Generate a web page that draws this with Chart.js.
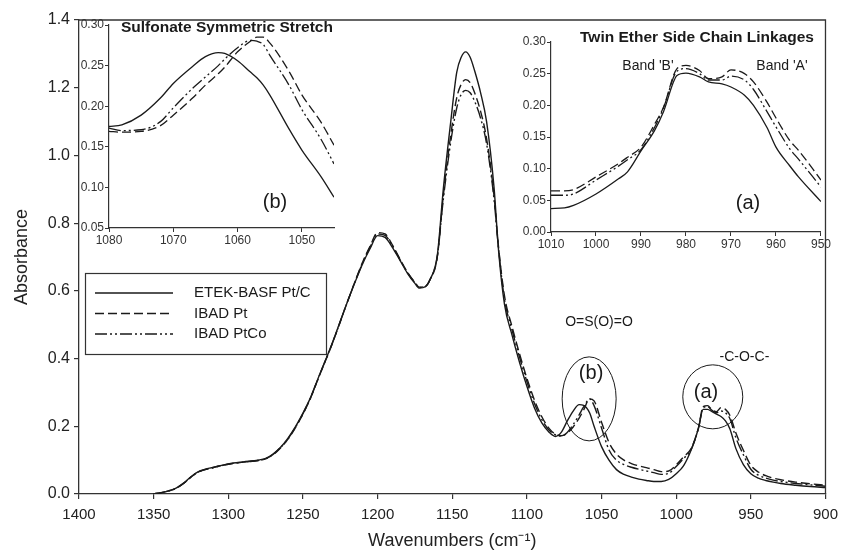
<!DOCTYPE html>
<html>
<head>
<meta charset="utf-8">
<title>FTIR spectra</title>
<script src="https://cdn.jsdelivr.net/npm/chart.js@4.4.1/dist/chart.umd.min.js"></script>
<style>
  html, body { margin: 0; padding: 0; background: #fff; }
  #wrap { position: relative; width: 845px; height: 555px; }
  canvas { position: absolute; }
</style>
</head>
<body>
<div id="wrap">
  <canvas id="main" width="845" height="555" style="left:0;top:0"></canvas>
  <canvas id="insetB" width="262" height="246" style="left:80px;top:14px"></canvas>
  <canvas id="insetA" width="314" height="234" style="left:518px;top:28px"></canvas>
</div>
<script>
// --- data ---
const seriesNames = ["ETEK-BASF Pt/C", "IBAD Pt", "IBAD PtCo"];

const mainWn = [
  1350,1345,1340,1335,1330,1325,1320,
  1310,1300,1290,1280,1275,1270,1265,1260,1255,1250,1245,1240,
  1230,1220,1210,1205,1200,1195,1190,1185,1180,1175,1172,1168,1165,1160,
  1156,1151,1147,1144,1141,1138,1135,1131,1127,1122,1119,1115,1110,1105,1100,
  1095,1090,1085,1081,1077,1073,1069,1065,1062,1058,1055,1050,1045,1040,1035,1030,
  1025,1020,1015,1010,1005,1000,995,990,985,982,979,976,973,970,967,964,
  960,955,950,945,940,935,930,920,910,900
];
const etekMain = [
  0.000,0.004,0.009,0.017,0.032,0.051,0.066,
  0.079,0.089,0.095,0.100,0.105,0.118,0.138,0.165,0.199,0.239,0.284,0.340,
  0.450,0.570,0.680,0.725,0.763,0.758,0.728,0.690,0.652,0.622,0.608,0.612,0.632,0.705,
  0.900,1.100,1.245,1.290,1.306,1.290,1.250,1.185,1.100,0.905,0.720,0.560,0.470,0.390,0.318,
  0.255,0.210,0.182,0.170,0.182,0.215,0.245,0.264,0.262,0.240,0.200,0.140,0.100,0.072,0.058,0.050,
  0.044,0.040,0.037,0.037,0.043,0.060,0.084,0.130,0.195,0.250,0.250,0.243,0.236,0.229,0.216,0.192,
  0.134,0.087,0.060,0.047,0.040,0.035,0.031,0.026,0.022,0.019
];
const ibadPtMain = [
  0.000,0.004,0.009,0.017,0.031,0.050,0.065,
  0.078,0.088,0.094,0.099,0.104,0.116,0.136,0.162,0.196,0.236,0.282,0.338,
  0.448,0.570,0.685,0.732,0.772,0.768,0.735,0.694,0.655,0.625,0.611,0.614,0.632,0.700,
  0.880,1.060,1.170,1.210,1.224,1.215,1.185,1.130,1.050,0.880,0.730,0.585,0.495,0.415,0.342,
  0.278,0.228,0.193,0.177,0.172,0.180,0.198,0.224,0.248,0.281,0.275,0.212,0.152,0.118,0.100,0.090,
  0.083,0.078,0.072,0.066,0.068,0.086,0.110,0.134,0.197,0.258,0.261,0.249,0.243,0.255,0.250,0.232,
  0.180,0.129,0.085,0.065,0.054,0.047,0.042,0.035,0.030,0.026
];
const ibadPtCoMain = [
  0.000,0.004,0.009,0.017,0.031,0.050,0.065,
  0.078,0.088,0.094,0.099,0.104,0.117,0.137,0.163,0.197,0.237,0.283,0.339,
  0.449,0.570,0.683,0.729,0.768,0.764,0.732,0.692,0.654,0.624,0.610,0.613,0.632,0.702,
  0.870,1.040,1.140,1.180,1.192,1.185,1.160,1.110,1.035,0.870,0.725,0.575,0.485,0.405,0.332,
  0.268,0.220,0.188,0.175,0.171,0.182,0.205,0.234,0.257,0.281,0.261,0.195,0.130,0.100,0.087,0.079,
  0.073,0.068,0.063,0.058,0.061,0.081,0.105,0.131,0.196,0.255,0.258,0.247,0.240,0.245,0.240,0.222,
  0.166,0.116,0.073,0.056,0.047,0.041,0.037,0.031,0.027,0.023
];

// inset (b): sulfonate symmetric stretch
const insetBWn = [1080,1078,1075,1072,1070,1067,1065,1063,1062,1060,1058,1057,1056,1055,1052,1050,1047,1045];
const etekB    = [0.175,0.177,0.189,0.210,0.228,0.249,0.261,0.266,0.265,0.256,0.242,0.235,0.226,0.214,0.172,0.146,0.113,0.088];
const ibadPtB  = [0.169,0.168,0.169,0.176,0.189,0.210,0.226,0.240,0.248,0.267,0.280,0.285,0.285,0.278,0.243,0.214,0.180,0.152];
const ibadPtCoB= [0.173,0.170,0.171,0.181,0.198,0.222,0.236,0.250,0.258,0.272,0.281,0.280,0.276,0.263,0.226,0.196,0.159,0.129];
const insetBTicks = [1080, 1070, 1060, 1050];

// inset (a): twin ether side chain linkages
const insetAWn = [1010,1007,1005,1000,995,993,990,987,985,982,980,977,975,972,970,967,965,962,960,957,955,950];
const etekA    = [0.037,0.038,0.042,0.060,0.084,0.095,0.128,0.160,0.190,0.247,0.251,0.245,0.237,0.234,0.229,0.216,0.200,0.165,0.134,0.105,0.087,0.048];
const ibadPtA  = [0.065,0.065,0.067,0.087,0.108,0.118,0.134,0.170,0.197,0.258,0.263,0.255,0.242,0.245,0.256,0.250,0.237,0.205,0.180,0.145,0.129,0.082];
const ibadPtCoA= [0.058,0.058,0.060,0.082,0.104,0.114,0.130,0.165,0.196,0.254,0.258,0.250,0.240,0.240,0.246,0.240,0.225,0.190,0.166,0.132,0.115,0.071];
const insetATicks = [1010, 1000, 990, 980, 970, 960, 950];

// --- styling ---
Chart.defaults.font.family = '"Liberation Sans", Arial, sans-serif';
Chart.defaults.color = "#222";
const ink = "#1a1a1a";
const axisColor = "#333";
const dashes = [[], [9, 4], [12, 3, 2, 3, 2, 3]];

function pts(xs, ys) {
  return xs.map((x, i) => ({ x: x, y: ys[i] }));
}

function makeSets(xs, list, width) {
  return list.map((ys, i) => ({
    label: seriesNames[i],
    data: pts(xs, ys),
    showLine: true,
    borderColor: ink,
    borderWidth: width,
    borderDash: dashes[i],
    pointRadius: 0,
    cubicInterpolationMode: "monotone",
    fill: false
  }));
}

function axis(opts) {
  return Object.assign({
    type: "linear",
    border: { display: true, color: axisColor, width: 1.3 },
    grid: { display: true, drawOnChartArea: false, drawTicks: true, tickLength: 5, color: axisColor, lineWidth: 1.2 }
  }, opts);
}

// main chart decorations: frame, legend, annotations
const mainDecor = {
  id: "mainDecor",
  afterDraw(chart) {
    const { ctx, chartArea: a, scales: { x, y } } = chart;
    ctx.save();
    ctx.strokeStyle = axisColor;
    ctx.lineWidth = 1.3;
    ctx.beginPath();
    ctx.moveTo(a.left, a.top);
    ctx.lineTo(a.right, a.top);
    ctx.lineTo(a.right, a.bottom);
    ctx.stroke();

    // circled bands
    ctx.strokeStyle = ink;
    ctx.lineWidth = 1;
    ctx.beginPath();
    ctx.ellipse(x.getPixelForValue(1058.3), y.getPixelForValue(0.281), 27, 42, 0, 0, Math.PI * 2);
    ctx.stroke();
    ctx.beginPath();
    ctx.ellipse(x.getPixelForValue(975.5), y.getPixelForValue(0.287), 30, 32, 0, 0, Math.PI * 2);
    ctx.stroke();

    ctx.fillStyle = ink;
    ctx.textAlign = "center";
    ctx.textBaseline = "middle";
    ctx.font = '14px "Liberation Sans", Arial, sans-serif';
    ctx.fillText("O=S(O)=O", x.getPixelForValue(1051.7), y.getPixelForValue(0.509));
    ctx.fillText("-C-O-C-", x.getPixelForValue(954.3), y.getPixelForValue(0.405));
    ctx.font = '20px "Liberation Sans", Arial, sans-serif';
    ctx.fillText("(b)", x.getPixelForValue(1057), y.getPixelForValue(0.355));
    ctx.fillText("(a)", x.getPixelForValue(980), y.getPixelForValue(0.299));

    // legend box
    ctx.fillStyle = "#fff";
    ctx.fillRect(85.5, 273.5, 241, 81);
    ctx.strokeStyle = axisColor;
    ctx.lineWidth = 1.2;
    ctx.strokeRect(85.5, 273.5, 241, 81);
    ctx.font = '15px "Liberation Sans", Arial, sans-serif';
    ctx.textAlign = "left";
    chart.data.datasets.forEach((ds, i) => {
      const ry = 293 + i * 20.5;
      ctx.strokeStyle = ink;
      ctx.lineWidth = 1.4;
      ctx.setLineDash(ds.borderDash);
      ctx.beginPath();
      ctx.moveTo(95, ry);
      ctx.lineTo(173, ry);
      ctx.stroke();
      ctx.setLineDash([]);
      ctx.fillStyle = ink;
      ctx.fillText(ds.label, 194, ry);
    });
    ctx.restore();
  }
};

new Chart(document.getElementById("main"), {
  type: "scatter",
  data: { datasets: makeSets(mainWn, [etekMain, ibadPtMain, ibadPtCoMain], 1.4) },
  options: {
    responsive: false,
    animation: false,
    devicePixelRatio: 1,
    layout: { padding: { left: 0, right: 10, top: 20, bottom: 0 } },
    plugins: { legend: { display: false }, tooltip: { enabled: false } },
    scales: {
      x: axis({
        min: 900, max: 1400, reverse: true,
        ticks: { stepSize: 50, font: { size: 15 }, padding: 7, maxRotation: 0, autoSkip: false, color: "#222", callback: v => String(v) },
        title: { display: true, text: "Wavenumbers (cm\u207B\u00B9)", font: { size: 18 }, color: "#222", padding: { top: 3, bottom: 3 } },
        afterFit: s => { s.height = 61; }
      }),
      y: axis({
        min: 0, max: 1.4,
        ticks: { stepSize: 0.2, font: { size: 16 }, padding: 4, color: "#222", callback: v => v.toFixed(1) },
        title: { display: true, text: "Absorbance", font: { size: 18 }, color: "#222", padding: { top: 11, bottom: 0 } },
        afterFit: s => { s.width = 79; }
      })
    }
  },
  plugins: [mainDecor]
});

// inset labels drawn in canvas coordinates
function insetDecor(id, notes) {
  return {
    id: id,
    afterDraw(chart) {
      const ctx = chart.ctx;
      ctx.save();
      ctx.fillStyle = ink;
      ctx.textBaseline = "middle";
      notes.forEach(n => {
        ctx.font = n.font;
        ctx.textAlign = n.align;
        ctx.fillText(n.text, n.x, n.y);
      });
      ctx.restore();
    }
  };
}

function insetOptions(xMin, xMax, xTicks, yMin, yMax, yW, xH, pad) {
  return {
    responsive: false,
    animation: false,
    devicePixelRatio: 1,
    layout: { padding: pad },
    plugins: { legend: { display: false }, tooltip: { enabled: false } },
    scales: {
      x: axis({
        min: xMin, max: xMax, reverse: true,
        grid: { display: true, drawOnChartArea: false, drawTicks: true, tickLength: 4, color: axisColor, lineWidth: 1 },
        border: { display: true, color: axisColor, width: 1.2 },
        ticks: { font: { size: 12 }, padding: 1, maxRotation: 0, autoSkip: false, color: "#333", callback: v => String(v) },
        afterBuildTicks: s => { s.ticks = xTicks.map(v => ({ value: v })); },
        afterFit: s => { s.height = xH; }
      }),
      y: axis({
        min: yMin, max: yMax,
        grid: { display: true, drawOnChartArea: false, drawTicks: true, tickLength: 4, color: axisColor, lineWidth: 1 },
        border: { display: true, color: axisColor, width: 1.2 },
        ticks: { stepSize: 0.05, font: { size: 12 }, padding: 1, color: "#333", callback: v => v.toFixed(2) },
        afterFit: s => { s.width = yW; }
      })
    }
  };
}

new Chart(document.getElementById("insetB"), {
  type: "scatter",
  data: { datasets: makeSets(insetBWn, [etekB, ibadPtB, ibadPtCoB], 1.3) },
  options: insetOptions(1045, 1080, insetBTicks, 0.05, 0.30, 29, 32, { left: 0, right: 8, top: 11, bottom: 0 }),
  plugins: [insetDecor("insetBText", [
    { text: "Sulfonate Symmetric Stretch", x: 41, y: 14, font: 'bold 15.5px "Liberation Sans", Arial, sans-serif', align: "left" },
    { text: "(b)", x: 195, y: 188, font: '20px "Liberation Sans", Arial, sans-serif', align: "center" }
  ])]
});

new Chart(document.getElementById("insetA"), {
  type: "scatter",
  data: { datasets: makeSets(insetAWn, [etekA, ibadPtA, ibadPtCoA], 1.3) },
  options: insetOptions(950, 1010, insetATicks, 0, 0.30, 33, 30, { left: 0, right: 9, top: 14, bottom: 0 }),
  plugins: [insetDecor("insetAText", [
    { text: "Twin Ether Side Chain Linkages", x: 179, y: 10, font: 'bold 15.5px "Liberation Sans", Arial, sans-serif', align: "center" },
    { text: "Band 'B'", x: 130, y: 38, font: '14px "Liberation Sans", Arial, sans-serif', align: "center" },
    { text: "Band 'A'", x: 264, y: 38, font: '14px "Liberation Sans", Arial, sans-serif', align: "center" },
    { text: "(a)", x: 230, y: 175, font: '20px "Liberation Sans", Arial, sans-serif', align: "center" }
  ])]
});
</script>
</body>
</html>
